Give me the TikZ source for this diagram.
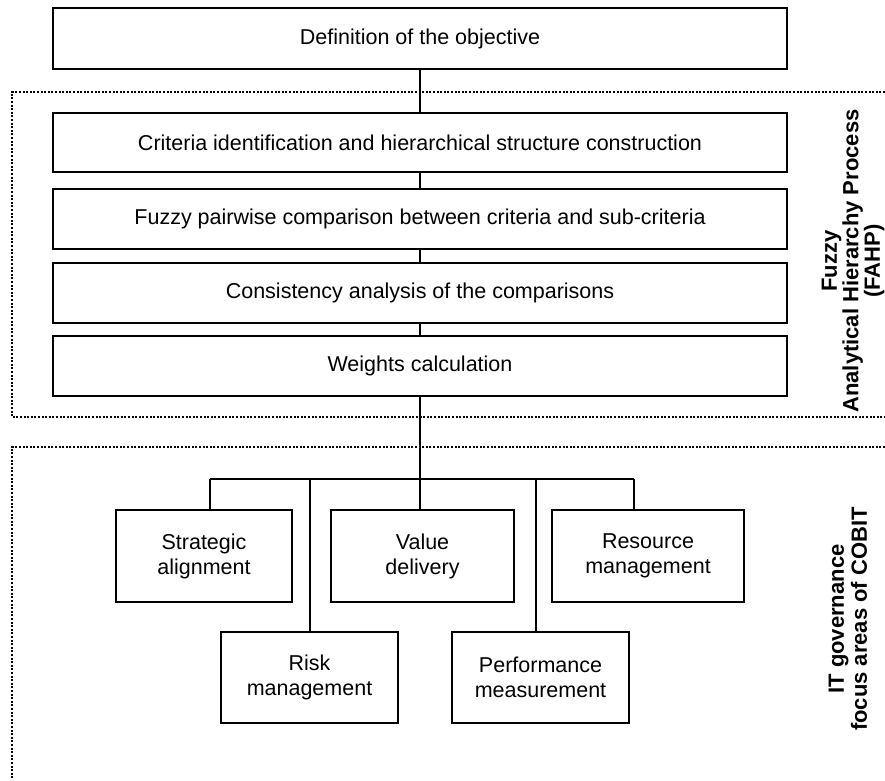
\documentclass[tikz,border=0pt]{standalone}
\usepackage{fontspec}
\setmainfont{Liberation Sans}
\usepackage{tikz}
\tikzset{
	stagebox/.style={draw, line width=1.5pt, inner sep=0pt, align=center, font=\fontsize{21.5}{25}\selectfont},
	wire/.style={line width=1.5pt},
	frame/.style={line width=1.3pt, dash pattern=on 2pt off 1.6pt},
	sidelabel/.style={rotate=90, align=center, font=\fontsize{22}{23}\selectfont\bfseries}
}
\newcommand{\stagenode}[5]{\node[stagebox, minimum width=#3, minimum height=#4] (#1) at (#2) {#5};}
\newcommand{\fullstage}[4]{\stagenode{#1}{420,#2}{734pt}{#3}{#4}}
\newcommand{\focusarea}[4]{\stagenode{#1}{#2}{#3}{92pt}{#4}}

\begin{document}
\begin{tikzpicture}[x=1pt, y=-1pt]
		\useasboundingbox (0,0) rectangle (885,780);

		\draw[frame] (885,92) -- (12,92) -- (12,417) -- (885,417);
		\draw[frame] (885,447) -- (12,447) -- (12,780);

		\fullstage{goal}{38.5}{61pt}{Definition of the objective}
		\fullstage{crit}{142.5}{59pt}{Criteria identification and hierarchical structure construction}
		\fullstage{pair}{219}{60pt}{Fuzzy pairwise comparison between criteria and sub-criteria}
		\fullstage{cons}{293}{60pt}{Consistency analysis of the comparisons}
		\fullstage{wts}{366}{60pt}{Weights calculation}

		\focusarea{sa}{204,556}{176pt}{Strategic\\alignment}
		\focusarea{vd}{422.5,556}{183pt}{Value\\delivery}
		\focusarea{rm}{648,556}{192pt}{Resource\\management}
		\stagenode{risk}{309.5,677.5}{177pt}{91pt}{Risk\\management}
		\stagenode{pm}{540.5,677.5}{177pt}{91pt}{Performance\\measurement}

		\coordinate (b1) at (210,479);
		\coordinate (b2) at (310,479);
		\coordinate (b3) at (420,479);
		\coordinate (b4) at (536,479);
		\coordinate (b5) at (634,479);

		\draw[wire] (goal) -- (crit);
		\draw[wire] (crit) -- (pair);
		\draw[wire] (pair) -- (cons);
		\draw[wire] (cons) -- (wts);
		\draw[wire] (wts.south) -- (b3);
		\draw[wire] (b1) -- (b5);
		\draw[wire] (b1) -- (b1 |- sa.north);
		\draw[wire] (b2) -- (b2 |- risk.north);
		\draw[wire] (b3) -- (b3 |- vd.north);
		\draw[wire] (b4) -- (b4 |- pm.north);
		\draw[wire] (b5) -- (b5 |- rm.north);

		\node[sidelabel, font=\fontsize{22}{20}\selectfont\bfseries] (fahp) at (853,261) {Fuzzy\\Analytical Hierarchy Process\\(FAHP)};
		\node[sidelabel] (cobit) at (848,619) {IT governance\\focus areas of COBIT};
	\end{tikzpicture}
\end{document}
